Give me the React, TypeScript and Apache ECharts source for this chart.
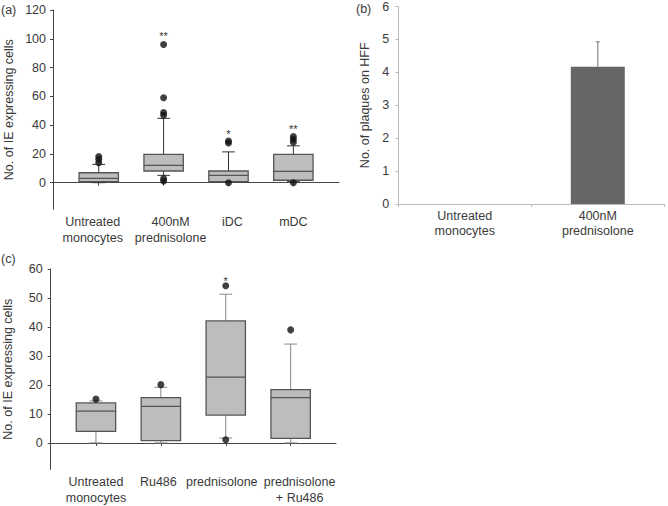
import React, { useEffect, useRef } from 'react';
import * as echarts from 'echarts';

// ---------- Panel (a) ----------
const catsA = ['Untreated\nmonocytes', '400nM\nprednisolone', 'iDC', 'mDC'];
// [min, Q1, median, Q3, max]
const boxA = [
  [0, 0.7, 3.0, 6.9, 12.7],
  [5.1, 8.1, 12, 19.6, 44.7],
  [0.7, 0.7, 5.1, 8.1, 21.4],
  [0.7, 1.7, 7.9, 19.6, 25.6],
];
const outA = [
  [0, 13.8], [0, 16.2], [0, 18.2],
  [1, 46.8], [1, 48.8], [1, 59], [1, 96], [1, 2.8], [1, 1.2],
  [2, 27.6], [2, 29], [2, 0],
  [3, 28.1], [3, 30.2], [3, 32], [3, 0],
];
const starsA = [[1, 102, '**'], [2, 34, '*'], [3, 37, '**']];
const ticksA = [0, 20, 40, 60, 80, 100, 120];

// ---------- Panel (b) ----------
const catsB = ['Untreated\nmonocytes', '400nM\nprednisolone'];
const barB = [0, 4.17];
const errB = [0, 0.76];

// ---------- Panel (c) ----------
const catsC = ['Untreated\nmonocytes', 'Ru486', 'prednisolone', 'prednisolone\n+ Ru486'];
const boxC = [
  [0, 4.0, 11.0, 13.8, 14.5],
  [0, 0.8, 12.6, 15.6, 19.2],
  [1.7, 9.6, 22.7, 42.1, 51.3],
  [0, 1.6, 15.6, 18.4, 34.1],
];
const outC = [[0, 15.1], [1, 20.1], [2, 54.2], [2, 1.1], [3, 39.0]];
const starsC = [[2, 56, '*']];
const ticksC = [0, 10, 20, 30, 40, 50, 60];

// label horizontal shifts (px) relative to the tick, layout only
const shiftA = [-6, 7, 4, 0];
const shiftC = [0, -2.5, -4, 9];

const FONT = '"Liberation Sans", Arial, Helvetica, sans-serif';
const TXT = '#3a3a3a';

function boxRender(whisker: string, border: string) {
  return (params: any, api: any) => {
    const i = api.value(0);
    const v = [1, 2, 3, 4, 5].map((k) => api.value(k));
    const band = api.size([1, 0])[0];
    const bw = band * 0.607;
    const cw = band * 0.195;
    const p = v.map((val) => api.coord([i, val]));
    const x = p[0][0];
    const [yMin, yQ1, yMed, yQ3, yMax] = p.map((q) => q[1]);
    const wl = { stroke: whisker, lineWidth: 1 };
    return {
      type: 'group',
      children: [
        { type: 'line', shape: { x1: x, y1: yMin, x2: x, y2: yQ1 }, style: wl },
        { type: 'line', shape: { x1: x, y1: yQ3, x2: x, y2: yMax }, style: wl },
        { type: 'line', shape: { x1: x - cw / 2, y1: yMin, x2: x + cw / 2, y2: yMin }, style: wl },
        { type: 'line', shape: { x1: x - cw / 2, y1: yMax, x2: x + cw / 2, y2: yMax }, style: wl },
        {
          type: 'rect',
          shape: { x: x - bw / 2, y: yQ3, width: bw, height: yQ1 - yQ3 },
          style: { fill: '#bcbdbf', stroke: border, lineWidth: 1.3 },
        },
        {
          type: 'line',
          shape: { x1: x - bw / 2, y1: yMed, x2: x + bw / 2, y2: yMed },
          style: { stroke: border, lineWidth: 1.3 },
        },
      ],
    };
  };
}

function starRender(params: any, api: any) {
  const pt = api.coord([api.value(0), api.value(1)]);
  return {
    type: 'text',
    x: pt[0],
    y: pt[1],
    style: {
      text: String(api.value(2)),
      fill: '#333',
      font: `11px ${FONT}`,
      align: 'center',
      verticalAlign: 'middle',
    },
  };
}

function errRender(params: any, api: any) {
  const i = api.value(0);
  const top = api.value(1) + api.value(2);
  const base = api.coord([i, api.value(1)]);
  const tp = api.coord([i, top]);
  const cw = 4;
  const st = { stroke: '#888', lineWidth: 1.2 };
  return {
    type: 'group',
    children: [
      { type: 'line', shape: { x1: base[0], y1: base[1], x2: tp[0], y2: tp[1] }, style: st },
      { type: 'line', shape: { x1: tp[0] - cw / 2, y1: tp[1], x2: tp[0] + cw / 2, y2: tp[1] }, style: st },
    ],
  };
}

const labelStyle = { color: TXT, fontSize: 12.5, fontFamily: FONT };

function shiftedLabels(shifts: number[], lineHeight: number) {
  const rich: any = {};
  shifts.forEach((s, i) => {
    rich['c' + i] = {
      ...labelStyle,
      lineHeight,
      padding: s >= 0 ? [0, 0, 0, 2 * s] : [0, -2 * s, 0, 0],
    };
  });
  return {
    formatter: (value: string, index: number) =>
      value.split('\n').map((l) => `{c${index}|${l}}`).join('\n'),
    rich,
  };
}

export default function App() {
  const ref = useRef<HTMLDivElement>(null);
  useEffect(() => {
    if (!ref.current) return;
    const chart = echarts.init(ref.current, undefined, { renderer: 'svg' });
    const dark = '#444';
    const light = '#bbb';
    const option: any = {
      animation: false,
      backgroundColor: '#fff',
      textStyle: { fontFamily: FONT },
      grid: [
        { left: 53, top: 10, width: 286, height: 199.3 },
        { left: 66.3, top: 10, width: 259.5, height: 199.3 },
        { left: 398.3, top: 6.5, width: 266, height: 197.5 },
        { left: 50.7, top: 269, width: 285.3, height: 200.3 },
        { left: 63.5, top: 269, width: 259.6, height: 200.3 },
      ],
      xAxis: [
        {
          gridIndex: 0, type: 'value', min: 0, max: 1,
          axisLine: { show: true, lineStyle: { color: dark, width: 1 } },
          axisTick: { show: false }, axisLabel: { show: false }, splitLine: { show: false },
        },
        {
          gridIndex: 1, type: 'category', data: catsA,
          axisLine: { show: false },
          axisTick: { show: true, alignWithLabel: true, length: 3, lineStyle: { color: dark } },
          axisLabel: { ...labelStyle, margin: 5, lineHeight: 16, interval: 0, ...shiftedLabels(shiftA, 16) },
        },
        {
          gridIndex: 2, type: 'category', data: catsB,
          axisLine: { show: true, lineStyle: { color: light, width: 1 } },
          axisTick: { show: true, length: 3, lineStyle: { color: light } },
          axisLabel: { ...labelStyle, margin: 4, lineHeight: 15, interval: 0 },
        },
        {
          gridIndex: 3, type: 'value', min: 0, max: 1,
          axisLine: { show: true, lineStyle: { color: dark, width: 1 } },
          axisTick: { show: false }, axisLabel: { show: false }, splitLine: { show: false },
        },
        {
          gridIndex: 4, type: 'category', data: catsC,
          axisLine: { show: false },
          axisTick: { show: true, alignWithLabel: true, length: 3, lineStyle: { color: dark } },
          axisLabel: { ...labelStyle, margin: 5, lineHeight: 16, interval: 0, ...shiftedLabels(shiftC, 16) },
        },
      ],
      yAxis: [
        {
          gridIndex: 0, type: 'value', min: -18.5, max: 120,
          axisLine: { show: true, lineStyle: { color: dark, width: 1 } },
          axisTick: { show: true, length: 3, customValues: ticksA, lineStyle: { color: dark } },
          axisLabel: { ...labelStyle, margin: 7, customValues: ticksA },
          splitLine: { show: false },
          name: 'No. of IE expressing cells', nameLocation: 'middle', nameGap: 38,
          nameTextStyle: { ...labelStyle },
        },
        { gridIndex: 1, type: 'value', min: -18.5, max: 120, show: false },
        {
          gridIndex: 2, type: 'value', min: 0, max: 6, interval: 1,
          axisLine: { show: true, lineStyle: { color: light, width: 1 } },
          axisTick: { show: true, length: 3, lineStyle: { color: light } },
          axisLabel: { ...labelStyle, margin: 9 },
          splitLine: { show: false },
          name: 'No. of plaques on HFF', nameLocation: 'middle', nameGap: 27,
          nameTextStyle: { ...labelStyle },
        },
        {
          gridIndex: 3, type: 'value', min: -9, max: 60,
          axisLine: { show: true, lineStyle: { color: dark, width: 1 } },
          axisTick: { show: true, length: 3, customValues: ticksC, lineStyle: { color: dark } },
          axisLabel: { ...labelStyle, margin: 8, customValues: ticksC },
          splitLine: { show: false },
          name: 'No. of IE expressing cells', nameLocation: 'middle', nameGap: 36,
          nameTextStyle: { ...labelStyle },
        },
        { gridIndex: 4, type: 'value', min: -9, max: 60, show: false },
      ],
      series: [
        {
          type: 'custom', xAxisIndex: 1, yAxisIndex: 1,
          renderItem: boxRender('#333', '#555'),
          encode: { x: 0, y: [1, 2, 3, 4, 5] },
          data: boxA.map((b, i) => [i, ...b]), z: 2,
        },
        {
          type: 'scatter', xAxisIndex: 1, yAxisIndex: 1, data: outA,
          symbolSize: 7, itemStyle: { color: '#111' }, z: 3,
        },
        {
          type: 'custom', xAxisIndex: 1, yAxisIndex: 1, renderItem: starRender,
          encode: { x: 0, y: 1 }, data: starsA, z: 4,
        },
        {
          type: 'bar', xAxisIndex: 2, yAxisIndex: 2, data: barB, barWidth: 54,
          itemStyle: { color: '#666666' }, z: 2,
        },
        {
          type: 'custom', xAxisIndex: 2, yAxisIndex: 2, renderItem: errRender,
          encode: { x: 0, y: 1 },
          data: barB.map((v, i) => [i, v, errB[i]]).filter((d) => d[2] > 0), z: 3,
        },
        {
          type: 'custom', xAxisIndex: 4, yAxisIndex: 4,
          renderItem: boxRender('#888', '#555'),
          encode: { x: 0, y: [1, 2, 3, 4, 5] },
          data: boxC.map((b, i) => [i, ...b]), z: 2,
        },
        {
          type: 'scatter', xAxisIndex: 4, yAxisIndex: 4, data: outC,
          symbolSize: 7, itemStyle: { color: '#111' }, z: 3,
        },
        {
          type: 'custom', xAxisIndex: 4, yAxisIndex: 4, renderItem: starRender,
          encode: { x: 0, y: 1 }, data: starsC, z: 4,
        },
      ],
      graphic: [
        { type: 'text', left: 1, top: 3, style: { text: '(a)', fill: TXT, font: `12.5px ${FONT}` } },
        { type: 'text', left: 356, top: 2, style: { text: '(b)', fill: TXT, font: `12.5px ${FONT}` } },
        { type: 'text', left: 1, top: 252, style: { text: '(c)', fill: TXT, font: `12.5px ${FONT}` } },
      ],
    };
    chart.setOption(option);
    return () => chart.dispose();
  }, []);
  return (
    <div
      ref={ref}
      style={{ position: 'fixed', left: 0, top: 0, width: 668, height: 506, background: '#fff' }}
    />
  );
}
